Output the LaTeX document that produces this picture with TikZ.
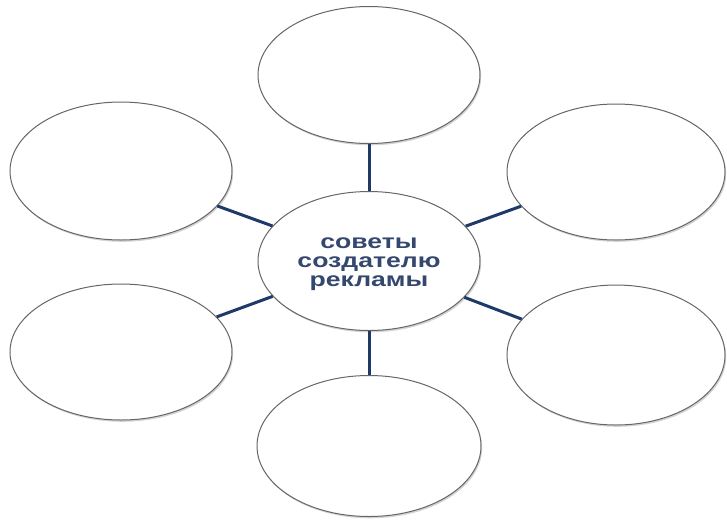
\documentclass[tikz,border=0pt]{standalone}
\usepackage{fontspec}
\setmainfont{Liberation Sans}
\newfontfamily\widesans[FakeStretch=1.33]{Liberation Sans}
\usetikzlibrary{shapes.geometric,shadows}
\definecolor{navy}{HTML}{1F3A68}
\definecolor{inkblue}{HTML}{34486F}
\tikzset{
  bubble/.style={ellipse, draw=gray!80!black, line width=1pt, fill=white, inner sep=0pt,
    minimum width=222pt, minimum height=137pt,
    drop shadow={shadow xshift=1.2pt, shadow yshift=-1.8pt, opacity=0.35}},
  spoke/.style={navy, line width=3pt}
}
\begin{document}
\begin{tikzpicture}[x=1pt,y=-1pt]
  \useasboundingbox (0,0) rectangle (727,520);
  % centre
  \node[bubble, minimum height=139pt, text=inkblue, align=center,
    font=\widesans\bfseries\fontsize{20}{19}\selectfont] (hub) at (369,261) {};
  \node[text=inkblue, align=center, font=\widesans\bfseries\fontsize{20}{19}\selectfont]
    (hubtext) at ([yshift=-3pt]hub.center) {советы\\создателю\\рекламы};
  % empty bubbles around it
  \node[bubble] (top) at (369,75) {};
  \node[bubble, minimum height=138pt] (ul) at (121,171) {};
  \node[bubble, minimum width=218pt, minimum height=136pt] (ur) at (616,172) {};
  \node[bubble, minimum height=136pt] (ll) at (121,352) {};
  \node[bubble, minimum width=218pt, minimum height=140pt] (lr) at (616,355) {};
  \node[bubble, minimum width=224pt, minimum height=141pt] (bot) at (369,446) {};
  \foreach \n in {top,ul,ur,ll,lr,bot}
    \draw[spoke] (hub) -- (\n);
\end{tikzpicture}
\end{document}
